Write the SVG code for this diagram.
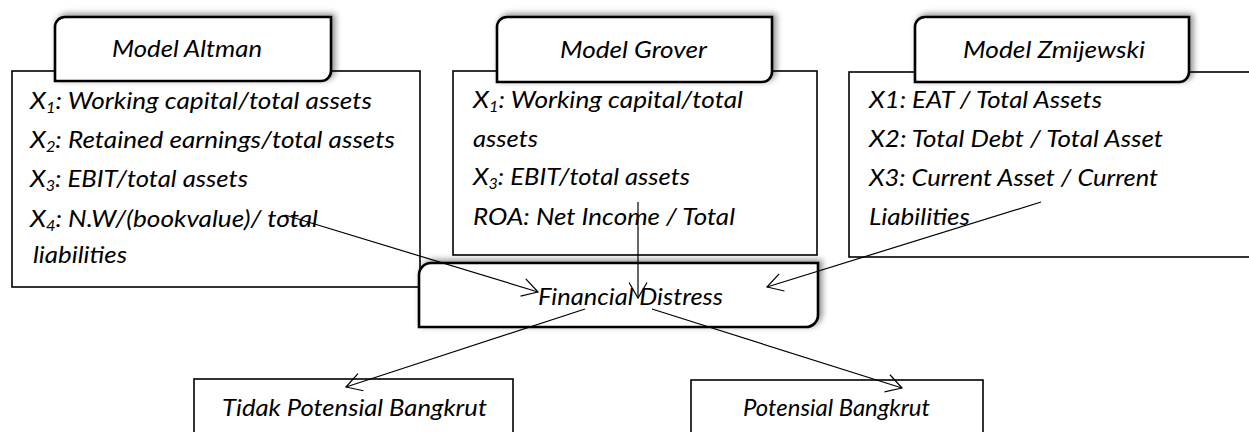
<svg xmlns="http://www.w3.org/2000/svg" width="1249" height="432" viewBox="0 0 1249 432">
<defs>
<style>
.box{fill:#fff;stroke:#000;stroke-width:1.6}
.tab{fill:#fff;stroke:#000;stroke-width:2.6;filter:url(#sh)}
.t{font-family:Lato,"Liberation Sans",sans-serif;font-style:italic;font-size:24px;fill:#000}
.sub{font-size:15px}
.con{fill:none;stroke:#000;stroke-width:1.2;marker-end:url(#arr)}
</style>
<filter id="sh" x="-10%" y="-40%" width="125%" height="170%">
<feDropShadow dx="3" dy="-2" stdDeviation="3" flood-color="#000" flood-opacity="0.45"/>
</filter>
<marker id="arr" markerUnits="userSpaceOnUse" markerWidth="22" markerHeight="22" viewBox="-19 -11 22 22" refX="0" refY="0" orient="auto" overflow="visible">
<path d="M -15.5,-9 L 0,0 L -15.5,9" fill="none" stroke="#000" stroke-width="1.2"/>
</marker>
</defs>
<rect width="1249" height="432" fill="#fff"/>

<g id="altman">
<rect class="box" x="12" y="71" width="408" height="216"/>
<path class="tab" d="M 65,17 H 331 V 71 A 10 10 0 0 1 321,81 H 55 V 27 A 10 10 0 0 1 65,17 Z"/>
<text class="t" x="112" y="57" textLength="150" lengthAdjust="spacingAndGlyphs">Model Altman</text>
<text class="t" x="30" y="109" textLength="342" lengthAdjust="spacingAndGlyphs">X<tspan class="sub" dy="4">1</tspan><tspan dy="-4">: Working capital/total assets</tspan></text>
<text class="t" x="30" y="148" textLength="365" lengthAdjust="spacingAndGlyphs">X<tspan class="sub" dy="4">2</tspan><tspan dy="-4">: Retained earnings/total assets</tspan></text>
<text class="t" x="30" y="187" textLength="218" lengthAdjust="spacingAndGlyphs">X<tspan class="sub" dy="4">3</tspan><tspan dy="-4">: EBIT/total assets</tspan></text>
<text class="t" x="30" y="227" textLength="288" lengthAdjust="spacingAndGlyphs">X<tspan class="sub" dy="4">4</tspan><tspan dy="-4">: N.W/(bookvalue)/ total</tspan></text>
<text class="t" x="33" y="263" textLength="94" lengthAdjust="spacingAndGlyphs">liabilities</text>
</g>

<g id="grover">
<rect class="box" x="453" y="71" width="364" height="184"/>
<path class="tab" d="M 507,17 H 772 V 72 A 10 10 0 0 1 762,82 H 497 V 27 A 10 10 0 0 1 507,17 Z"/>
<text class="t" x="560" y="58" textLength="147" lengthAdjust="spacingAndGlyphs">Model Grover</text>
<text class="t" x="473" y="108" textLength="270" lengthAdjust="spacingAndGlyphs">X<tspan class="sub" dy="4">1</tspan><tspan dy="-4">: Working capital/total</tspan></text>
<text class="t" x="473" y="147" textLength="65" lengthAdjust="spacingAndGlyphs">assets</text>
<text class="t" x="473" y="185" textLength="217" lengthAdjust="spacingAndGlyphs">X<tspan class="sub" dy="4">3</tspan><tspan dy="-4">: EBIT/total assets</tspan></text>
<text class="t" x="473" y="225" textLength="262" lengthAdjust="spacingAndGlyphs">ROA: Net Income / Total</text>
</g>

<g id="zmijewski">
<rect class="box" x="849" y="72" width="410" height="185"/>
<path class="tab" d="M 925,17 H 1189 V 72 A 10 10 0 0 1 1179,82 H 915 V 27 A 10 10 0 0 1 925,17 Z"/>
<text class="t" x="963" y="58" textLength="182" lengthAdjust="spacingAndGlyphs">Model Zmijewski</text>
<text class="t" x="869" y="108" textLength="233" lengthAdjust="spacingAndGlyphs">X1: EAT / Total Assets</text>
<text class="t" x="869" y="147" textLength="294" lengthAdjust="spacingAndGlyphs">X2: Total Debt / Total Asset</text>
<text class="t" x="869" y="186" textLength="289" lengthAdjust="spacingAndGlyphs">X3: Current Asset / Current</text>
<text class="t" x="869" y="225" textLength="101" lengthAdjust="spacingAndGlyphs">Liabilities</text>
</g>

<g id="financial-distress">
<path class="tab" d="M 431,263 H 818 V 315 A 12 12 0 0 1 806,327 H 419 V 275 A 12 12 0 0 1 431,263 Z"/>
<text class="t" x="538" y="305" textLength="185" lengthAdjust="spacingAndGlyphs">Financial Distress</text>
</g>

<g id="tidak-potensial">
<rect class="box" x="194" y="379" width="319" height="70"/>
<text class="t" x="222" y="416" textLength="265" lengthAdjust="spacingAndGlyphs">Tidak Potensial Bangkrut</text>
</g>

<g id="potensial">
<rect class="box" x="691" y="380" width="292" height="70"/>
<text class="t" x="743" y="416" textLength="187" lengthAdjust="spacingAndGlyphs">Potensial Bangkrut</text>
</g>

<g id="connectors">
<path class="con" d="M 285,215 L 538,292"/>
<path class="con" d="M 638,202 L 638,298"/>
<path class="con" d="M 1041,202 L 767,287"/>
<path class="con" d="M 585,309 L 346,387"/>
<path class="con" d="M 652,309 L 902,388"/>
</g>
</svg>
